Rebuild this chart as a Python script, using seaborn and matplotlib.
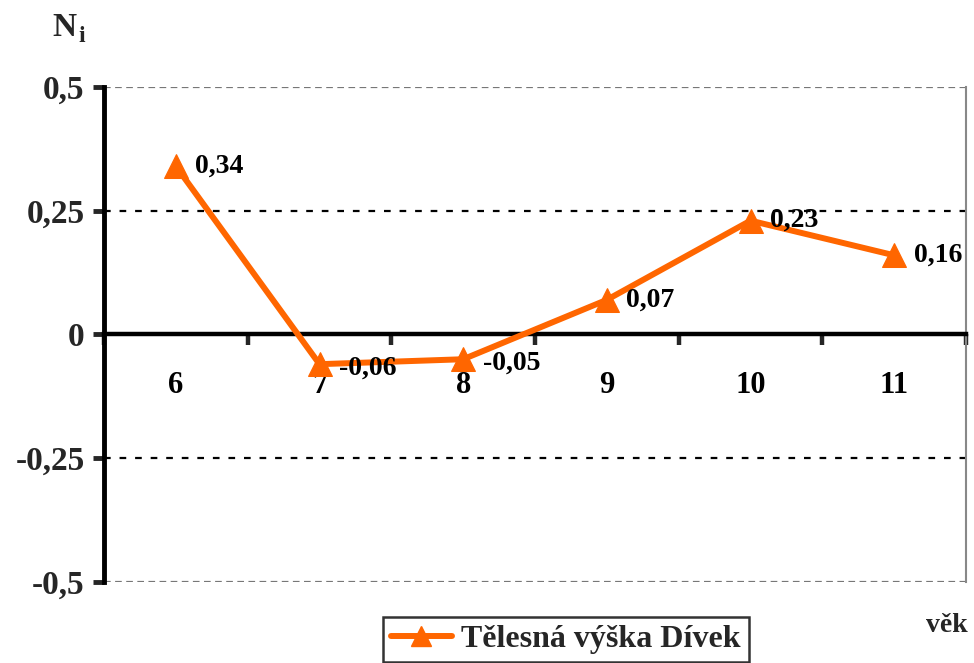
import matplotlib
matplotlib.use("Agg")
import matplotlib.pyplot as plt
from matplotlib.lines import Line2D
import seaborn as sns
import pandas as pd

ages = ["6", "7", "8", "9", "10", "11"]
values = [0.34, -0.06, -0.05, 0.07, 0.23, 0.16]
value_labels = ["0,34", "-0,06", "-0,05", "0,07", "0,23", "0,16"]
y_ticks = [-0.5, -0.25, 0.0, 0.25, 0.5]
y_tick_labels = ["-0,5", "-0,25", "0", "0,25", "0,5"]
series_name = "Tělesná výška Dívek"

sns.set_theme(style="white")
plt.rcParams["font.family"] = ["Liberation Serif", "DejaVu Serif"]
plt.rcParams["font.weight"] = "bold"

orange = "#FF6600"

df = pd.DataFrame({"pos": range(len(ages)), "val": values, "serie": series_name})

fig = plt.figure(figsize=(9.74, 6.63), dpi=100)
ax = fig.add_axes([0.1068, 0.1222, 0.8850, 0.7466])

sns.lineplot(data=df, x="pos", y="val", hue="serie", palette=[orange],
             marker="^", markersize=17, markeredgecolor=orange,
             linewidth=4.3, ax=ax, legend=False, zorder=5)

ax.set_xlim(-0.5, len(ages) - 0.5)
ax.set_ylim(-0.5, 0.5)

# dashed grid lines at the quarter marks, softer lines at the frame edges
for y in (-0.25, 0.25):
    ax.axhline(y, color="black", lw=1.6, ls=(0, (3, 4)), zorder=1)
for y in (-0.5, 0.5):
    ax.axhline(y, color="#777777", lw=1.6, ls=(0, (3, 2)), zorder=1)

ax.spines["top"].set_visible(False)
ax.spines["right"].set_color("#888888")
ax.spines["right"].set_linewidth(1.5)
ax.spines["left"].set_color("black")
ax.spines["left"].set_linewidth(3.5)
ax.spines["bottom"].set_position(("data", 0))
ax.spines["bottom"].set_color("black")
ax.spines["bottom"].set_linewidth(3.2)

# y axis
ax.set_yticks(y_ticks)
ax.set_yticklabels(y_tick_labels, fontsize=24, fontweight="bold")
ax.tick_params(axis="y", direction="out", length=8, width=3.5, pad=6, left=True)

# x axis: ticks at category boundaries, labels centred below
ax.set_xticks([i - 0.5 for i in range(len(ages) + 1)])
ax.set_xticklabels([])
ax.tick_params(axis="x", direction="out", length=8, width=3.2, bottom=True)
ax.set_xlabel("")
ax.set_ylabel("")

for i, a in enumerate(ages):
    ax.annotate(a, xy=(i, 0), xycoords="data", xytext=(0, -37),
                textcoords="offset points", ha="center", va="center",
                fontsize=22, fontweight="bold", color="black")

# value labels
for i, (v, lab) in enumerate(zip(values, value_labels)):
    dy = -3 if v < 0 else 0
    ax.annotate(lab, xy=(i, v), xytext=(14, dy), textcoords="offset points",
                ha="left", va="center", fontsize=20, fontweight="bold",
                color="black", zorder=6)

fig.text(52 / 974, 1 - 27 / 663, "N", fontsize=24, fontweight="bold",
         ha="left", va="center")
fig.text(78 / 974, 1 - 37 / 663, "i", fontsize=17, fontweight="bold",
         ha="left", va="center")
fig.text(968 / 974, 1 - 625 / 663, "věk", fontsize=20, fontweight="bold",
         ha="right", va="center")

# legend box
handle = Line2D([0], [0], color=orange, lw=4.3, marker="^", markersize=15,
                markeredgecolor=orange)
leg = fig.legend([handle], [series_name], loc="upper left",
                 bbox_to_anchor=(383 / 974, 1 - 617 / 663),
                 frameon=True, fancybox=False, edgecolor="black",
                 prop={"size": 23, "weight": "bold"}, handlelength=1.9,
                 handletextpad=0.3, borderpad=0.25, borderaxespad=0)
leg.get_frame().set_linewidth(1.8)

fig.savefig("out.png", dpi=100)
